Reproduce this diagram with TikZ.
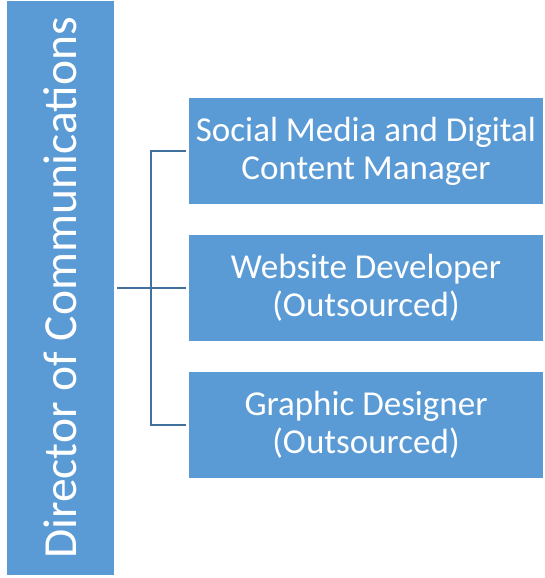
\documentclass[tikz,border=0pt]{standalone}
\usepackage{fontspec}
\setmainfont{Carlito}
\usepackage{xcolor}
\usepackage{tikz}
\definecolor{boxblue}{HTML}{5B9BD5}
\definecolor{lineblue}{HTML}{41719C}

\begin{document}
\begin{tikzpicture}[x=1pt,y=1pt]
\tikzset{role/.style={align=center, fill=boxblue, text=white, inner sep=0pt, minimum width=354pt, minimum height=106pt, font=\fontsize{35}{38}\selectfont}};
\tikzset{link/.style={draw=lineblue, line width=2pt}};
\useasboundingbox (0,0) rectangle (544,578);
\node [role, rotate=90, minimum width=574pt, minimum height=107pt, font=\fontsize{47.5}{50}\selectfont] (dir) at (60.5,290) {Director of Communications};
\node [role] (sm) at (366,427) {Social Media and Digital\\Content Manager};
\node [role] (web) at (366,290) {Website Developer\\(Outsourced)};
\node [role] (gd) at (366,153) {Graphic Designer\\(Outsourced)};
\draw [link, shorten <=3pt, shorten >=3pt] (dir.south) -- (web.west);
\draw [link, shorten <=3pt, shorten >=3pt] (sm.west) -- ++(-38,0) |- (gd.west);
\end{tikzpicture}
\end{document}
